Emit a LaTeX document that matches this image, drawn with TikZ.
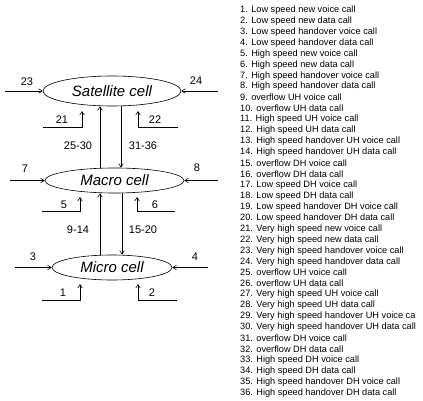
\documentclass[tikz,border=0pt]{standalone}
\usepackage{fontspec}
\setmainfont{Liberation Sans}
\usetikzlibrary{shapes.geometric,arrows.meta,calc}
\begin{document}
\begin{tikzpicture}[x=1pt,y=-1pt,
  cell/.style={ellipse,draw,line width=0.6pt,inner sep=0pt,font=\fontsize{15}{15}\selectfont\itshape},
  conn/.style={line width=0.6pt,-{Straight Barb[length=3.5pt,width=4.5pt]}},
  lab/.style={font=\fontsize{11}{11}\selectfont,inner sep=0pt},
  item/.style={font=\fontsize{9.2}{9.2}\selectfont,anchor=west,inner sep=0pt}]
\useasboundingbox (0,0) rectangle (423,401);
% cells
\node[cell,minimum width=138pt,minimum height=30pt] (sat) at (112,91) {Satellite cell};
\node[cell,minimum width=139pt,minimum height=25pt] (mac) at (114.5,180.5) {Macro cell};
\node[cell,minimum width=120pt,minimum height=25pt] (mic) at (112,267.5) {Micro cell};
% satellite inputs
\coordinate (s23) at (5,91);
\coordinate (s24) at (218,91);
\draw[conn] (s23) -- (sat.west);
\draw[conn] (s24) -- (sat.east);
\node[lab] (t23) at (27,82) {23};
\node[lab] (t24) at (196,81) {24};
\coordinate (s21a) at (43,127);
\coordinate (s21b) at (82,127);
\coordinate (s21c) at (82,111);
\draw[conn] (s21a) -- (s21b) -- (s21c);
\node[lab] (t21) at (62,120) {21};
\coordinate (s22a) at (178,127);
\coordinate (s22b) at (138,127);
\coordinate (s22c) at (138,111);
\draw[conn] (s22a) -- (s22b) -- (s22c);
\node[lab] (t22) at (155,120) {22};
% satellite <-> macro
\draw[conn] ($(mac.north)+(-14.5,0)$) -- ($(sat.south)+(-12,0)$);
\draw[conn] ($(sat.south)+(9,0)$) -- ($(mac.north)+(6.5,0)$);
\node[lab] (t2530) at (78,146) {25-30};
\node[lab] (t3136) at (143,146) {31-36};
% macro inputs
\coordinate (m7) at (10,180.5);
\coordinate (m8) at (218,180.5);
\draw[conn] (m7) -- (mac.west);
\draw[conn] (m8) -- (mac.east);
\node[lab] (t7) at (25,169) {7};
\node[lab] (t8) at (197,168) {8};
\coordinate (m5a) at (42,211);
\coordinate (m5b) at (80,211);
\coordinate (m5c) at (80,197);
\draw[conn] (m5a) -- (m5b) -- (m5c);
\node[lab] (t5) at (64,205) {5};
\coordinate (m6a) at (175,211);
\coordinate (m6b) at (137,211);
\coordinate (m6c) at (137,197);
\draw[conn] (m6a) -- (m6b) -- (m6c);
\node[lab] (t6) at (155,205) {6};
% macro <-> micro
\draw[conn] ($(mic.north)+(-12,0)$) -- ($(mac.south)+(-14.5,0)$);
\draw[conn] ($(mac.south)+(7.5,0)$) -- ($(mic.north)+(10,0)$);
\node[lab] (t914) at (78,230) {9-14};
\node[lab] (t1520) at (143,230) {15-20};
% micro inputs
\coordinate (u3) at (15,267.5);
\coordinate (u4) at (208,267.5);
\draw[conn] (u3) -- (mic.west);
\draw[conn] (u4) -- (mic.east);
\node[lab] (t3) at (33,257) {3};
\node[lab] (t4) at (195,257) {4};
\coordinate (u1a) at (42,300);
\coordinate (u1b) at (80,300);
\coordinate (u1c) at (80,284);
\draw[conn] (u1a) -- (u1b) -- (u1c);
\node[lab] (t1) at (63,293) {1};
\coordinate (u2a) at (177,300);
\coordinate (u2b) at (138,300);
\coordinate (u2c) at (138,284);
\draw[conn] (u2a) -- (u2b) -- (u2c);
\node[lab] (t2) at (152,293) {2};
% legend
\foreach \t [count=\i] in {
1. Low speed new voice call,
2. Low speed new data call,
3. Low speed handover voice call,
4. Low speed handover data call,
5. High speed new voice call,
6. High speed new data call,
7. High speed handover voice call,
8. High speed handover data call,
9. overflow UH voice call,
10. overflow UH data call,
11. High speed UH voice call,
12. High speed UH data call,
13. High speed handover UH voice call,
14. High speed handover UH data call,
15. overflow DH voice call,
16. overflow DH data call,
17. Low speed DH voice call,
18. Low speed DH data call,
19. Low speed handover DH voice call,
20. Low speed handover DH data call,
21. Very high speed new voice call,
22. Very high speed new data call,
23. Very high speed handover voice call,
24. Very high speed handover data call,
25. overflow UH voice call,
26. overflow UH data call,
27. Very high speed UH voice call,
28. Very high speed UH data call,
29. Very high speed handover UH voice ca,
30. Very high speed handover UH data call,
31. overflow DH voice call,
32. overflow DH data call,
33. High speed DH voice call,
34. High speed DH data call,
35. High speed handover DH voice call,
36. High speed handover DH data call}
  \node[item] (l\i) at (240,{10+(\i-1)*10.94}) {\t};
\end{tikzpicture}
\end{document}
